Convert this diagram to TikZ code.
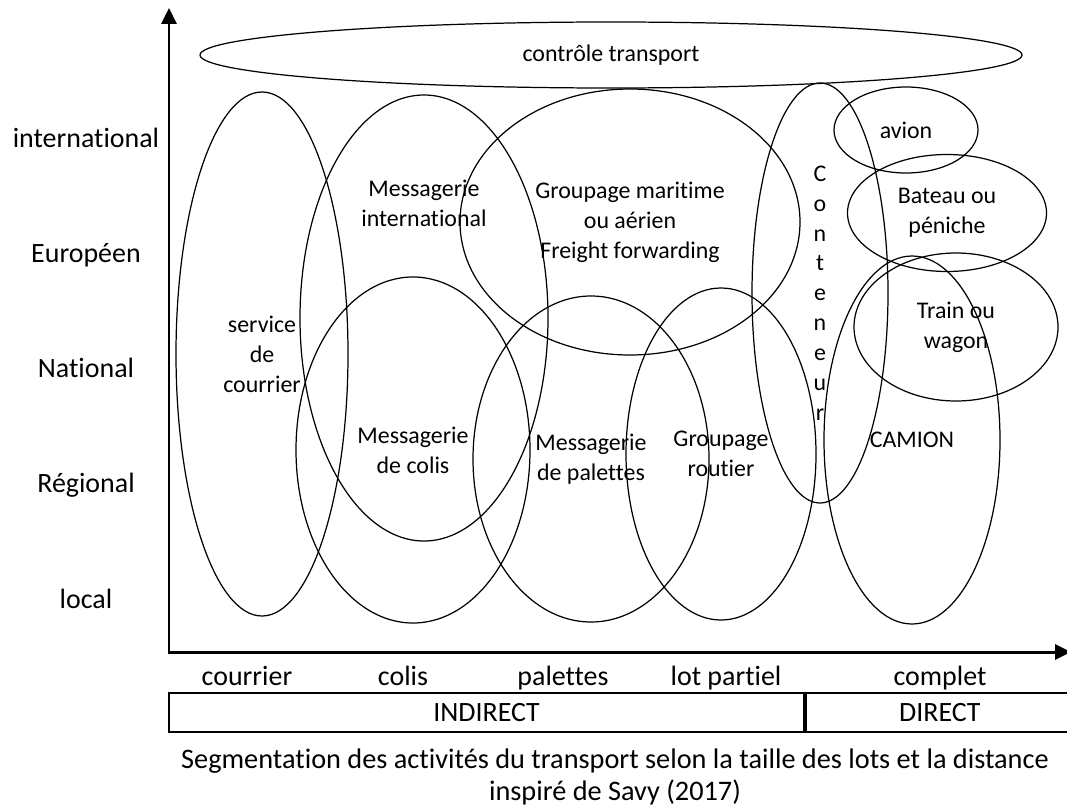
\documentclass[tikz,border=0pt]{standalone}
\usepackage{fontspec}
\setmainfont{Carlito}[Ligatures=NoCommon]
\usepackage{tikz}
\usetikzlibrary{arrows.meta,shapes.geometric,positioning}

\tikzset{
  zone/.style={ellipse,draw,line width=0.7pt,inner sep=0pt,align=center},
  axislab/.style={font=\fontsize{15.9}{19}\selectfont},
  cell/.style={draw,line width=1.2pt,rectangle,inner sep=0pt,minimum height=0.78cm,anchor=west},
}

\begin{document}
\begin{tikzpicture}[x=1cm,y=1cm,font=\fontsize{13.6}{17}\selectfont]
  \useasboundingbox (0,0) rectangle (21.34,16.18);
  % ---- axes ----
  \coordinate (origin) at (3.38,3.14);
  \coordinate (ytop) at (3.38,16.02);
  \coordinate (xend) at (21.42,3.14);
  \draw[line width=1.7pt,line join=miter,{Triangle[length=3.2mm,width=3mm]}-{Triangle[length=3.2mm,width=3mm]}]
      (ytop) -- (origin) -- (xend);
  % ---- distance levels ----
  \foreach \nm/\lab/\y in {intl/international/13.22, euro/Européen/10.94, nat/National/8.64, reg/Régional/6.34, loc/local/4.02}
      \node[axislab,anchor=base] (lvl-\nm) at (1.72,\y) {\lab};
  % ---- lot sizes ----
  \foreach \nm/\lab/\x in {cour/courrier/4.94, colis/colis/8.06, pal/palettes/11.26, lot/lot partiel/14.52, compl/complet/18.80}
      \node[axislab,anchor=base] (size-\nm) at (\x,2.47) {\lab};
  % ---- indirect / direct ----
  \node[cell,axislab,minimum width=12.70cm] (indirect) at (3.36,1.93) {INDIRECT};
  \node[cell,axislab,minimum width=5.35cm,right=0pt of indirect] (direct) {DIRECT};
  % ---- activities ----
  \node[zone,minimum width=16.44cm,minimum height=1.32cm] (ctrl) at (12.22,15.08) {contrôle transport};
  \node[zone,minimum width=3.44cm,minimum height=10.48cm] (courrier) at (5.24,9.10) {service\\de\\courrier};
  \node[zone,minimum width=4.96cm,minimum height=8.92cm] (msgintl) at (8.48,9.82) {};
  \node[align=center] (msgintl-txt) at (8.48,12.12) {Messagerie\\international};
  \node[zone,minimum width=6.80cm,minimum height=5.32cm] (grpmar) at (12.60,11.74) {Groupage maritime\\ou aérien\\Freight forwarding};
  \node[zone,minimum width=4.68cm,minimum height=6.92cm] (msgcolis) at (8.26,7.18) {Messagerie\\de colis};
  \node[zone,minimum width=4.72cm,minimum height=6.52cm] (msgpal) at (11.82,7.00) {Messagerie\\de palettes};
  \node[zone,minimum width=3.80cm,minimum height=6.64cm] (grprout) at (14.42,7.10) {Groupage\\routier};
  \node[zone,minimum width=2.72cm,minimum height=8.40cm] (conteneur) at (16.40,10.32) {C\\o\\n\\t\\e\\n\\e\\u\\r};
  % ---- modes ----
  \node[zone,minimum width=2.88cm,minimum height=1.72cm] (avion) at (18.12,13.58) {avion};
  \node[zone,minimum width=3.98cm,minimum height=2.34cm] (bateau) at (18.94,11.92) {Bateau ou\\péniche};
  \node[zone,minimum width=4.08cm,minimum height=2.96cm] (train) at (19.12,9.64) {Train ou\\wagon};
  \node[zone,minimum width=3.52cm,minimum height=7.36cm] (camion) at (18.24,7.38) {CAMION};
  % ---- caption ----
  \node[align=center,font=\fontsize{16.1}{18}\selectfont] (caption) at (12.3,0.64)
      {Segmentation des activités du transport selon la taille des lots et la distance\\inspiré de Savy (2017)};
\end{tikzpicture}
\end{document}
